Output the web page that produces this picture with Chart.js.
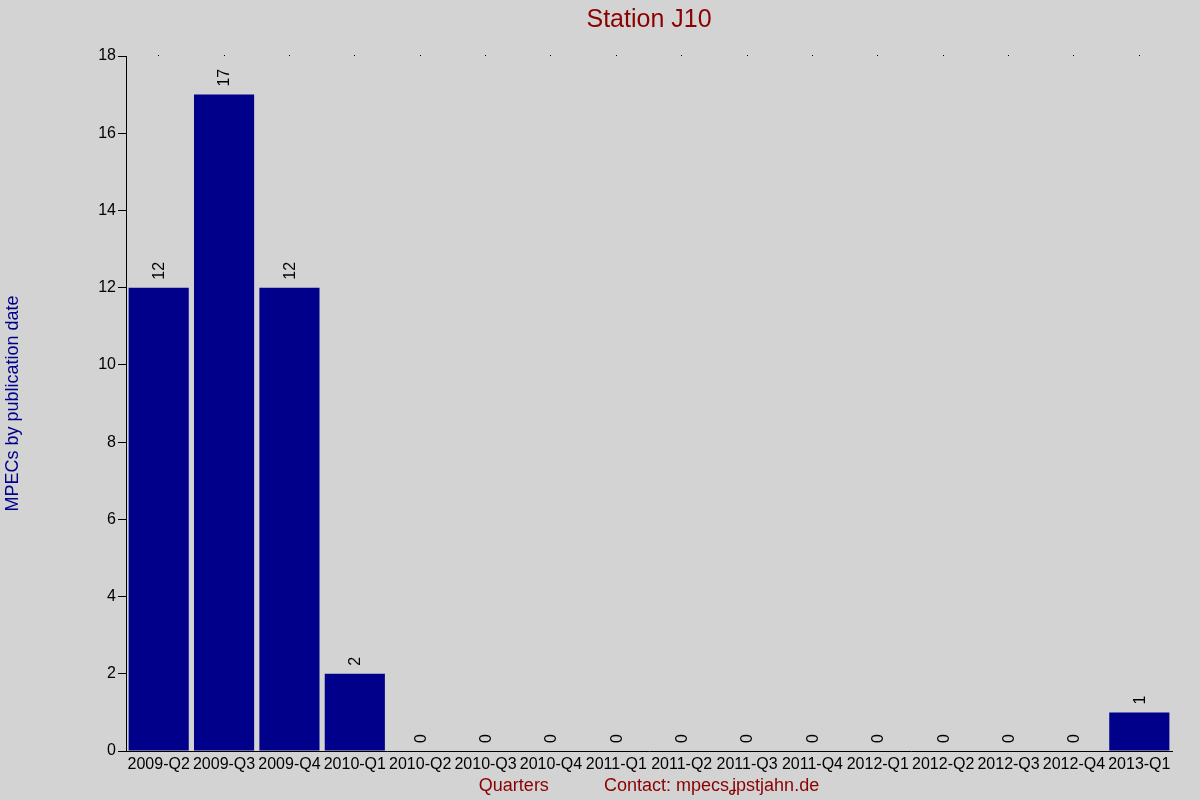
<!DOCTYPE html>
<html>
<head>
<meta charset="utf-8">
<script src="https://cdn.jsdelivr.net/npm/chart.js@4"></script>
<style>
html,body{margin:0;padding:0;background:#d3d3d3;}
canvas{display:block;}
</style>
</head>
<body>
<canvas id="c" width="1200" height="800"></canvas>
<script>
const categories = ["2009-Q2","2009-Q3","2009-Q4","2010-Q1","2010-Q2","2010-Q3","2010-Q4","2011-Q1","2011-Q2","2011-Q3","2011-Q4","2012-Q1","2012-Q2","2012-Q3","2012-Q4","2013-Q1"];
const mpecs = [12,17,12,2,0,0,0,0,0,0,0,0,0,0,0,1];
const yTicks = [0,2,4,6,8,10,12,14,16,18];
const chartTitle = "Station J10";
const yTitle = "MPECs by publication date";
const xTitle = "Quarters\u00A0\u00A0\u00A0\u00A0\u00A0\u00A0\u00A0\u00A0\u00A0\u00A0\u00A0Contact: mpecsʝpstjahn.de";

const FONT = "'Liberation Sans', Arial, sans-serif";

const bgPlugin = {
  id: 'bg',
  beforeDraw(chart) {
    const ctx = chart.ctx;
    ctx.save();
    ctx.fillStyle = '#d3d3d3';
    ctx.fillRect(0, 0, chart.width, chart.height);
    ctx.restore();
  }
};

const valueLabels = {
  id: 'valueLabels',
  afterDatasetsDraw(chart) {
    const ctx = chart.ctx;
    const meta = chart.getDatasetMeta(0);
    ctx.save();
    ctx.font = "16px " + FONT;
    ctx.fillStyle = '#000';
    ctx.textAlign = 'left';
    ctx.textBaseline = 'middle';
    meta.data.forEach((el, i) => {
      ctx.save();
      ctx.translate(el.x + 1, el.y - 8);
      ctx.rotate(-Math.PI / 2);
      ctx.fillText(String(mpecs[i]), 0, 0);
      ctx.restore();
    });
    ctx.restore();
  }
};

new Chart(document.getElementById('c'), {
  type: 'bar',
  data: {
    labels: categories,
    datasets: [{
      data: mpecs,
      backgroundColor: '#00008b',
      borderWidth: 0,
      barPercentage: 0.92,
      categoryPercentage: 1.0
    }]
  },
  options: {
    responsive: false,
    devicePixelRatio: 1,
    animation: false,
    layout: { padding: { left: 0, right: 28, top: 0, bottom: 0 } },
    plugins: {
      legend: { display: false },
      tooltip: { enabled: false },
      title: { display: false }
    },
    scales: {
      x: {
        position: 'bottom',
        offset: true,
        grid: { display: false, drawTicks: false },
        border: { display: true, color: '#000', width: 1 },
        ticks: {
          color: '#000',
          font: { family: FONT, size: 16 },
          padding: 4,
          maxRotation: 0,
          autoSkip: false
        },
        title: {
          display: true,
          text: xTitle,
          color: '#8b0000',
          font: { family: FONT, size: 18 },
          padding: { top: 0, bottom: 3 }
        },
        afterFit(s) { s.height = 49; }
      },
      x2: {
        type: 'category',
        labels: categories,
        position: 'top',
        offset: true,
        grid: { display: true, offset: false, drawOnChartArea: false, drawTicks: true, tickLength: 1, color: '#000', lineWidth: 1 },
        border: { display: false },
        ticks: { display: false },
        title: {
          display: true,
          text: chartTitle,
          color: '#8b0000',
          font: { family: FONT, size: 25 },
          padding: { top: 5, bottom: 0 }
        },
        afterFit(s) { s.height = 56; }
      },
      y: {
        min: 0,
        max: 18,
        afterBuildTicks(s) { s.ticks = yTicks.map(v => ({ value: v })); },
        grid: { display: true, drawOnChartArea: false, drawTicks: true, tickLength: 8, color: '#000', lineWidth: 1 },
        border: { display: true, color: '#000', width: 1 },
        ticks: {
          color: '#000',
          font: { family: FONT, size: 16 },
          padding: 2
        },
        title: {
          display: true,
          text: yTitle,
          color: '#00008b',
          font: { family: FONT, size: 18 },
          padding: { top: 2, bottom: 0 }
        },
        afterFit(s) { s.width = 126; }
      }
    }
  },
  plugins: [bgPlugin, valueLabels]
});
</script>
</body>
</html>
